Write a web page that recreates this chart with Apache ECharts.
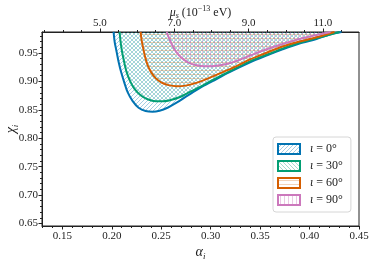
<!DOCTYPE html>
<html>
<head>
<meta charset="utf-8">
<script src="https://cdn.jsdelivr.net/npm/echarts@6/dist/echarts.min.js"></script>
<style>
html,body{margin:0;padding:0;background:#fff;}
#chart{width:374px;height:260px;}
</style>
</head>
<body>
<div id="chart"></div>
<script>
// ---- data ----
const seriesNames = ['ι = 0°', 'ι = 30°', 'ι = 60°', 'ι = 90°'];

const alpha0 = [0.2018,0.2029,0.2049,0.2069,0.2094,0.2125,0.2160,0.2211,0.2271,0.2342,0.2413,0.2483,0.2564,0.2655,0.2766,0.2888,0.3019,0.3191,0.3393,0.3545,0.3727,0.3898,0.4070,0.4202,0.4323];
const chi0   = [0.9871,0.9694,0.9518,0.9341,0.9164,0.8988,0.8811,0.8652,0.8537,0.8479,0.8466,0.8484,0.8537,0.8625,0.8749,0.8882,0.9005,0.9164,0.9332,0.9442,0.9564,0.9668,0.9747,0.9827,0.9871];

const alpha30 = [0.2079,0.2089,0.2104,0.2125,0.2150,0.2185,0.2231,0.2291,0.2362,0.2443,0.2524,0.2605,0.2696,0.2787,0.2888,0.3019,0.3191,0.3393,0.3545,0.3727,0.3898,0.4070,0.4202,0.4303];
const chi30   = [0.9871,0.9694,0.9518,0.9341,0.9164,0.9005,0.8864,0.8758,0.8687,0.8652,0.8652,0.8678,0.8731,0.8811,0.8899,0.9023,0.9177,0.9350,0.9456,0.9578,0.9680,0.9760,0.9822,0.9871];

const alpha60 = [0.2291,0.2301,0.2317,0.2337,0.2362,0.2397,0.2443,0.2504,0.2574,0.2655,0.2746,0.2847,0.2969,0.3110,0.3262,0.3393,0.3545,0.3727,0.3898,0.4070,0.4252];
const chi60   = [0.9871,0.9730,0.9588,0.9429,0.9288,0.9164,0.9058,0.8979,0.8935,0.8917,0.8926,0.8970,0.9049,0.9155,0.9270,0.9385,0.9491,0.9615,0.9703,0.9777,0.9871];

const alpha90 = [0.2554,0.2574,0.2605,0.2645,0.2696,0.2766,0.2847,0.2938,0.3039,0.3151,0.3272,0.3393,0.3545,0.3727,0.3898,0.4070,0.4212];
const chi90   = [0.9871,0.9783,0.9659,0.9535,0.9429,0.9341,0.9288,0.9265,0.9270,0.9302,0.9367,0.9451,0.9553,0.9659,0.9747,0.9818,0.9871];

const xTicks = [0.15,0.20,0.25,0.30,0.35,0.40,0.45];
const yTicks = [0.65,0.70,0.75,0.80,0.85,0.90,0.95];
const muTicks = [5.0,7.0,9.0,11.0];

// ---- styling ----
const FONT = 'Liberation Serif';
const colors = ['#0173b2', '#029e73', '#d55e00', '#cc78bc'];
const X_MIN = 0.1294, X_MAX = 0.45;
const Y_MIN = 0.6455, Y_MAX = 0.987;
const MU_MIN = 3.44, MU_MAX = 11.97;

function range(a, b, step, exclude) {
  const out = [];
  const n = Math.round((b - a) / step);
  for (let i = 0; i <= n; i++) {
    const v = +(a + i * step).toFixed(4);
    if (!exclude.some(e => Math.abs(e - v) < 1e-6)) out.push(v);
  }
  return out;
}
const xMinor = range(0.13, 0.45, 0.01, xTicks);
const yMinor = range(0.65, 0.98, 0.01, yTicks);
const muMinor = range(3.5, 11.5, 0.5, muTicks);

function hatch(kind, color, size) {
  const c = document.createElement('canvas');
  c.width = size; c.height = size;
  const g = c.getContext('2d');
  g.strokeStyle = color;
  g.lineWidth = 0.8;
  g.beginPath();
  if (kind === '/') {
    for (let k = -1; k <= 1; k++) { g.moveTo(k * size, size); g.lineTo(k * size + size, 0); }
  } else if (kind === '\\') {
    for (let k = -1; k <= 1; k++) { g.moveTo(k * size, 0); g.lineTo(k * size + size, size); }
  } else if (kind === '-') {
    g.moveTo(0, size / 2 + 0.5); g.lineTo(size, size / 2 + 0.5);
  } else {
    g.moveTo(size / 2 + 0.5, 0); g.lineTo(size / 2 + 0.5, size);
  }
  g.stroke();
  return { image: c, repeat: 'repeat' };
}
const kinds = ['/', '\\', '-', '|'];
const hatchColors = ['rgba(1,115,178,0.45)', 'rgba(2,158,115,0.45)', 'rgba(213,94,0,0.35)', 'rgba(204,120,188,0.5)'];
const sizes = [4, 4, 4, 4];
const pats = kinds.map((k, i) => hatch(k, hatchColors[i], sizes[i]));
const legendPats = kinds.map((k, i) => hatch(k, hatchColors[i], sizes[i]));

const alphas = [alpha0, alpha30, alpha60, alpha90];
const chis = [chi0, chi30, chi60, chi90];

const series = alphas.map((al, i) => ({
  name: seriesNames[i],
  type: 'line',
  data: al.map((a, j) => [a, chis[i][j]]),
  showSymbol: false,
  smooth: 0.3,
  lineStyle: { color: colors[i], width: 2 },
  itemStyle: { color: colors[i] },
  areaStyle: { color: pats[i], origin: 'end', opacity: 1 },
  xAxisIndex: 0,
  yAxisIndex: 0,
  z: 2 + i
}));

const tickLabel = { fontFamily: FONT, fontSize: 11, color: '#222' };

const option = {
  animation: false,
  backgroundColor: '#fff',
  grid: { left: 42, right: 15, top: 32, bottom: 34, show: true, borderColor: '#222', borderWidth: 1,
          backgroundColor: 'transparent', containLabel: false, outerBoundsMode: 'none' },
  legend: {
    orient: 'vertical',
    left: 273, top: 137,
    itemWidth: 22, itemHeight: 10, itemGap: 5,
    padding: [6, 8, 6, 4],
    backgroundColor: 'rgba(255,255,255,0.85)',
    borderColor: '#d6d6d6', borderWidth: 1, borderRadius: 3,
    textStyle: { fontFamily: FONT, fontSize: 12, color: '#222', padding: [0, 0, 0, 5],
      rich: { i: { fontFamily: FONT, fontSize: 12, fontStyle: 'italic', color: '#222' },
              t: { fontFamily: FONT, fontSize: 12, color: '#222' } } },
    formatter: n => '{i|ι}{t|' + n.slice(1) + '}',
    data: seriesNames.map((n, i) => ({
      name: n, icon: 'rect',
      itemStyle: { color: legendPats[i], borderColor: colors[i], borderWidth: 2 }
    }))
  },
  xAxis: [
    { type: 'value', position: 'bottom', min: X_MIN, max: X_MAX, gridIndex: 0,
      axisLine: { show: true, onZero: false, lineStyle: { color: '#222', width: 1 } },
      axisTick: { show: true, customValues: xTicks, length: 3.5, lineStyle: { color: '#222' } },
      axisLabel: { show: true, customValues: xTicks, formatter: v => v.toFixed(2), margin: 5, ...tickLabel },
      splitLine: { show: false },
      name: '{a|α}{s|i}', nameLocation: 'middle', nameGap: 17, nameMoveOverlap: false,
      nameTextStyle: { rich: {
        a: { fontFamily: FONT, fontStyle: 'italic', fontSize: 14, lineHeight: 18, color: '#222' },
        s: { fontFamily: FONT, fontStyle: 'italic', fontSize: 9, lineHeight: 9, verticalAlign: 'bottom', color: '#222' } } } },
    { type: 'value', position: 'bottom', min: X_MIN, max: X_MAX, gridIndex: 0,
      axisLine: { show: false, onZero: false },
      axisTick: { show: true, customValues: xMinor, length: 2, lineStyle: { color: '#222' } },
      axisLabel: { show: false }, splitLine: { show: false } },
    { type: 'value', position: 'top', min: MU_MIN, max: MU_MAX, gridIndex: 0,
      axisLine: { show: true, onZero: false, lineStyle: { color: '#222', width: 1 } },
      axisTick: { show: true, customValues: muTicks, length: 3.5, lineStyle: { color: '#222' } },
      axisLabel: { show: true, customValues: muTicks, formatter: v => v.toFixed(1), margin: 3, ...tickLabel },
      splitLine: { show: false },
      name: '{m|μ}{s|s}{r|(10}{p|−13}{r| eV)}', nameLocation: 'middle', nameGap: 12, nameMoveOverlap: false,
      nameTextStyle: { rich: {
        m: { fontFamily: FONT, fontStyle: 'italic', fontSize: 12, lineHeight: 15, color: '#222' },
        s: { fontFamily: FONT, fontStyle: 'italic', fontSize: 8, lineHeight: 8, verticalAlign: 'bottom', color: '#222', padding: [0, 3, 0, 0] },
        r: { fontFamily: FONT, fontSize: 12, lineHeight: 15, color: '#222' },
        p: { fontFamily: FONT, fontSize: 8, lineHeight: 8, verticalAlign: 'top', color: '#222' } } } },
    { type: 'value', position: 'top', min: MU_MIN, max: MU_MAX, gridIndex: 0,
      axisLine: { show: false, onZero: false },
      axisTick: { show: true, customValues: muMinor, length: 2, lineStyle: { color: '#222' } },
      axisLabel: { show: false }, splitLine: { show: false } }
  ],
  yAxis: [
    { type: 'value', position: 'left', min: Y_MIN, max: Y_MAX, gridIndex: 0,
      axisLine: { show: true, onZero: false, lineStyle: { color: '#222', width: 1 } },
      axisTick: { show: true, customValues: yTicks, length: 3.5, lineStyle: { color: '#222' } },
      axisLabel: { show: true, customValues: yTicks, formatter: v => v.toFixed(2), margin: 4, ...tickLabel },
      splitLine: { show: false },
      name: '{a|χ}{s|i}', nameLocation: 'middle', nameGap: 22, nameRotate: 90, nameMoveOverlap: false,
      nameTextStyle: { rich: {
        a: { fontFamily: FONT, fontStyle: 'italic', fontSize: 14, lineHeight: 18, color: '#222' },
        s: { fontFamily: FONT, fontStyle: 'italic', fontSize: 9, lineHeight: 9, verticalAlign: 'bottom', color: '#222' } } } },
    { type: 'value', position: 'left', min: Y_MIN, max: Y_MAX, gridIndex: 0,
      axisLine: { show: false, onZero: false },
      axisTick: { show: true, customValues: yMinor, length: 2, lineStyle: { color: '#222' } },
      axisLabel: { show: false }, splitLine: { show: false } }
  ],
  series: series
};

const chart = echarts.init(document.getElementById('chart'), null, { renderer: 'canvas' });
chart.setOption(option);
</script>
</body>
</html>
